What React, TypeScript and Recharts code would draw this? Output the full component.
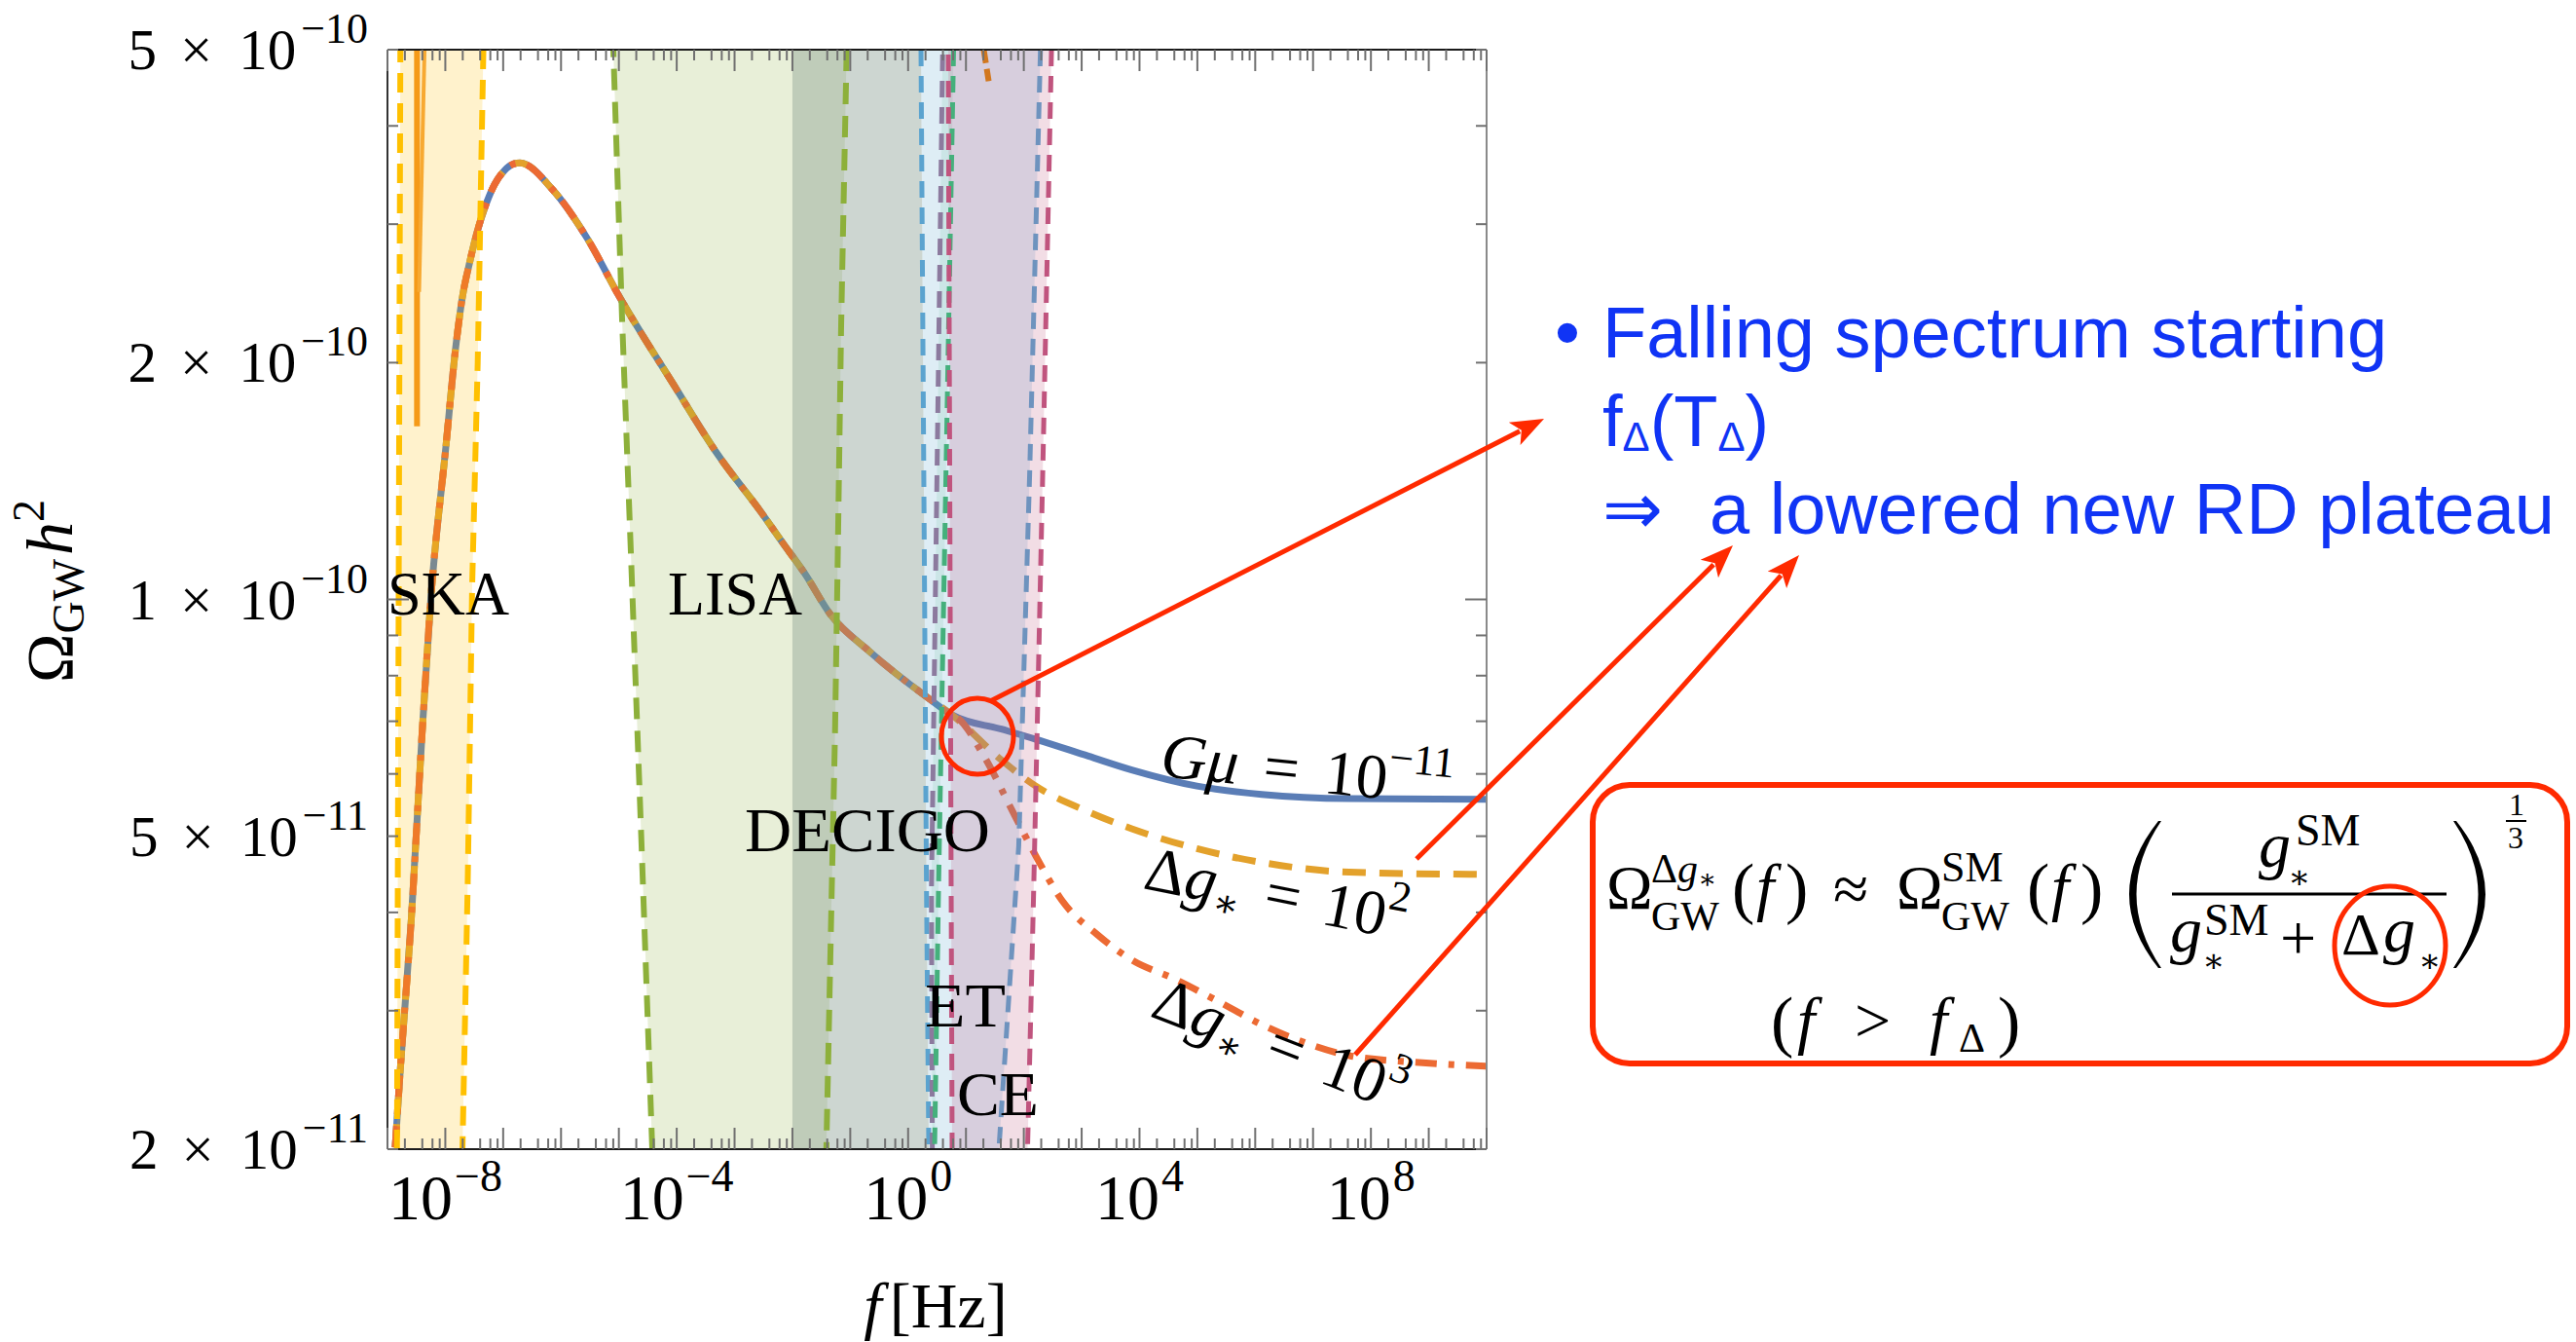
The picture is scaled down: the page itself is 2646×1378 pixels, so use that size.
import React from "react";
import { ComposedChart, Line, Area, XAxis, YAxis } from "recharts";

const W = 2646;
const H = 1378;
const SERIF = "'Liberation Serif', 'DejaVu Serif', serif";
const SANS = "'Liberation Sans', 'DejaVu Sans', Arial, sans-serif";
const RED = "#ff2a00";
const BLUE_TEXT = "#1034f5";

// common part of the spectrum (all three curves coincide here), f in Hz
const sharedFreq = [
  1.36e-9, 1.67e-9, 2.58e-9, 3.97e-9, 5.61e-9, 1.02e-8, 1.51e-8, 1.95e-8, 2.69e-8,
  3.49e-8, 4.82e-8, 7.1e-8, 1.05e-7, 1.54e-7, 1.95e-7, 7.13e-7, 2.82e-6, 1.04e-5,
  9.04e-5, 5.07e-4, 2.9e-3, 6.81e-3, 1.62e-2, 4.54e-2, 0.214, 2.03, 5.77,
];
const sharedOmega = [
  2.01e-11, 2.53e-11, 3.92e-11, 6.76e-11, 1.0e-10, 1.56e-10, 2.09e-10, 2.41e-10, 2.7e-10,
  2.92e-10, 3.15e-10, 3.37e-10, 3.51e-10, 3.58e-10, 3.59e-10, 3.32e-10, 2.88e-10, 2.42e-10,
  1.87e-10, 1.53e-10, 1.29e-10, 1.18e-10, 1.08e-10, 9.57e-11, 8.59e-11, 7.53e-11, 7.13e-11,
];

// Gmu = 1e-11, standard model plateau
const gmuFreq = [41.0, 161, 1.31e3, 7.35e3, 9.84e4, 1.3e6, 4.24e7, 1e10];
const gmuOmega = [6.84e-11, 6.64e-11, 6.32e-11, 6.07e-11, 5.79e-11, 5.65e-11, 5.58e-11, 5.57e-11];

// delta g* = 1e2
const dg2Freq = [41.0, 161, 1.31e3, 7.35e3, 9.84e4, 1.3e6, 4.24e7, 1e10];
const dg2Omega = [6.25e-11, 5.79e-11, 5.37e-11, 5.11e-11, 4.82e-11, 4.63e-11, 4.5e-11, 4.47e-11];

// delta g* = 1e3
const dg3Freq = [7.28, 20.5, 68.9, 161, 459, 1.85e3, 7.35e3, 4.12e4, 2.36e5, 1.3e6, 7.41e6, 4.24e7, 5.62e8, 1e10];
const dg3Omega = [
  7.06e-11, 6.32e-11, 5.32e-11, 4.72e-11, 4.14e-11, 3.75e-11, 3.48e-11, 3.29e-11,
  3.08e-11, 2.88e-11, 2.73e-11, 2.63e-11, 2.58e-11, 2.55e-11,
];

// detector regions: left edges run bottom -> top, right edges top -> bottom
const skaLeftF = [1.46e-9, 1.67e-9];
const skaLeftO = [2e-11, 5e-10];
const skaRightF = [4.55e-8, 4.24e-8, 3.63e-8, 2.91e-8, 2.44e-8, 1.98e-8];
const skaRightO = [5e-10, 3.77e-10, 2.0e-10, 1.04e-10, 4.37e-11, 2e-11];

const lisaLeftF = [3.78e-5, 2.47e-5, 1.61e-5, 1.14e-5, 8.02e-6];
const lisaLeftO = [2e-11, 4.86e-11, 1.15e-10, 2.26e-10, 5e-10];
const lisaRightF = [8.67e-2, 6.95e-2, 5.96e-2, 5.45e-2, 3.86e-2];
const lisaRightO = [5e-10, 2.22e-10, 1.03e-10, 6.76e-11, 2e-11];

const decigoLeftF = [1e-2, 1e-2];
const decigoLeftO = [2e-11, 5e-10];
const decigoRightF = [1.67, 2.08, 2.28];
const decigoRightO = [5e-10, 4.26e-11, 2e-11];

const etLeftF = [2.28, 2.08, 1.67];
const etLeftO = [2e-11, 4.26e-11, 5e-10];
const etRightF = [194, 126, 81.7, 37.1];
const etRightO = [5e-10, 1.44e-10, 4.86e-11, 2e-11];

const ligoLeftF = [2.62, 2.53, 3.96];
const ligoLeftO = [2e-11, 4.26e-11, 5e-10];
const ligoRightF = [6.11, 3.35, 2.87];
const ligoRightO = [5e-10, 4.26e-11, 2e-11];

const ceLeftF = [5.77, 5.55, 4.94];
const ceLeftO = [2e-11, 4.26e-11, 5e-10];
const ceRightF = [301, 212, 148, 116];
const ceRightO = [5e-10, 1.44e-10, 4.26e-11, 2e-11];

// PTA signal spikes inside the SKA window
const ptaAF = [3.24e-9, 3.24e-9];
const ptaAO = [5e-10, 1.66e-10];
const ptaBF = [4.37e-9, 3.52e-9];
const ptaBO = [5e-10, 2.46e-10];
const topWedgeF = [20.3, 24.7];
const topWedgeO = [5e-10, 4.56e-10];

// axes
const xDecades = Array.from({ length: 20 }, (_, i) => i - 9);
const xTicks = xDecades.flatMap((d) =>
  d === 10 ? [1e10] : [1, 2, 4, 6, 8].map((m) => Number((m * Math.pow(10, d)).toPrecision(3)))
);
const xLabelExp = [-8, -4, 0, 4, 8];
const yTicks = [2e-11, 3e-11, 4e-11, 5e-11, 6e-11, 7e-11, 8e-11, 9e-11, 1e-10, 2e-10, 3e-10, 4e-10, 5e-10];
const yLabelMant = [1, 2, 5];

const pts = (fs: number[], os: number[]) => fs.map((f, i) => ({ f, omega: os[i] }));
const poly = (lf: number[], lo: number[], rf: number[], ro: number[]) => [...pts(lf, lo), ...pts(rf, ro)];

const gmuPts = [...pts(sharedFreq, sharedOmega), ...pts(gmuFreq, gmuOmega)];
const dg2Pts = [...pts(sharedFreq, sharedOmega), ...pts(dg2Freq, dg2Omega)];
const dg3Pts = [...pts(sharedFreq, sharedOmega), ...pts(dg3Freq, dg3Omega)];

const sup = (e: number) => (e < 0 ? "\u2212" + -e : String(e));

const xTick = (side: "bottom" | "top") => (p: any) => {
  const { x, y, payload } = p;
  const v = payload.value;
  const e = Math.round(Math.log10(v));
  const major = Math.abs(v / Math.pow(10, e) - 1) < 1e-6;
  const len = major ? 22 : 11;
  const dir = side === "bottom" ? -1 : 1;
  return (
    <g>
      <line x1={x} x2={x} y1={y} y2={y + dir * len} stroke="#707070" strokeWidth={2} />
      {side === "bottom" && major && xLabelExp.includes(e) && (
        <text x={x} y={y + 72} textAnchor="middle" fontFamily={SERIF} fontSize={66} fill="#000">
          10
          <tspan fontSize={46} dy={-29} dx={2}>
            {sup(e)}
          </tspan>
        </text>
      )}
    </g>
  );
};

const yTick = (side: "left" | "right") => (p: any) => {
  const { x, y, payload } = p;
  const v = payload.value;
  const e = Math.floor(Math.log10(v) + 1e-9);
  const m = Math.round(v / Math.pow(10, e));
  const len = m === 1 ? 22 : 11;
  const dir = side === "left" ? 1 : -1;
  return (
    <g>
      <line x1={x} x2={x + dir * len} y1={y} y2={y} stroke="#707070" strokeWidth={2} />
      {side === "left" && yLabelMant.includes(m) && (
        <text x={x - 20} y={y + 20} textAnchor="end" fontFamily={SERIF} fontSize={59} fill="#000">
          {m}
          <tspan dx={24}>×</tspan>
          <tspan dx={27}>10</tspan>
          <tspan dx={5} dy={-27} fontSize={44}>
            {sup(e)}
          </tspan>
        </text>
      )}
    </g>
  );
};

function Arrow({ x1, y1, x2, y2 }: { x1: number; y1: number; x2: number; y2: number }) {
  const a = Math.atan2(y2 - y1, x2 - x1);
  const L = 34;
  const hw = 13;
  const bx = x2 - L * Math.cos(a);
  const by = y2 - L * Math.sin(a);
  const px = -Math.sin(a) * hw;
  const py = Math.cos(a) * hw;
  return (
    <g>
      <line x1={x1} y1={y1} x2={bx + 6 * Math.cos(a)} y2={by + 6 * Math.sin(a)} stroke={RED} strokeWidth={5} />
      <polygon points={`${x2},${y2} ${bx + px},${by + py} ${bx + 8 * Math.cos(a)},${by + 8 * Math.sin(a)} ${bx - px},${by - py}`} fill={RED} />
    </g>
  );
}

const edge = (data: any[], color: string, key: string, dash = "17 10", width = 5) => (
  <Line
    key={key}
    data={data}
    dataKey="omega"
    type="linear"
    stroke={color}
    strokeWidth={width}
    strokeDasharray={dash}
    dot={false}
    activeDot={false}
    isAnimationActive={false}
  />
);

const band = (data: any[], color: string, opacity: number, key: string) => (
  <Area
    key={key}
    data={data}
    dataKey="omega"
    type="linear"
    stroke="none"
    fill={color}
    fillOpacity={opacity}
    dot={false}
    activeDot={false}
    isAnimationActive={false}
    zIndex={100}
  />
);

function Overlay() {
  const it = { fontStyle: "italic" as const };
  return (
    <svg width={W} height={H} style={{ position: "absolute", left: 0, top: 0, pointerEvents: "none" }}>
      {/* detector names */}
      <g fontFamily={SERIF} fontSize={63} fill="#000">
        <text x={398} y={631} textLength={125} lengthAdjust="spacingAndGlyphs">SKA</text>
        <text x={686} y={631} textLength={138} lengthAdjust="spacingAndGlyphs">LISA</text>
        <text x={765} y={874} textLength={252} lengthAdjust="spacingAndGlyphs">DECIGO</text>
        <text x={950} y={1054} textLength={83} lengthAdjust="spacingAndGlyphs">ET</text>
        <text x={983} y={1145} textLength={84} lengthAdjust="spacingAndGlyphs">CE</text>
      </g>

      {/* curve labels */}
      <g fontFamily={SERIF} fontSize={65} fill="#000">
        <text x={1191} y={797} transform="rotate(5.8 1191 797)">
          <tspan {...it}>Gμ</tspan>
          <tspan dx={26}>=</tspan>
          <tspan dx={26}>10</tspan>
          <tspan fontSize={44} dy={-29}>
            −11
          </tspan>
        </text>
        <text x={1173} y={912} transform="rotate(11.3 1173 912)">
          Δ<tspan {...it}>g</tspan>
          <tspan fontSize={40} dy={12}>
            ∗
          </tspan>
          <tspan dy={-12} dx={24}>
            =
          </tspan>
          <tspan dx={24}>10</tspan>
          <tspan fontSize={44} dy={-29}>
            2
          </tspan>
        </text>
        <text x={1180} y={1043} transform="rotate(21.3 1180 1043)">
          Δ<tspan {...it}>g</tspan>
          <tspan fontSize={40} dy={12}>
            ∗
          </tspan>
          <tspan dy={-12} dx={24}>
            =
          </tspan>
          <tspan dx={24}>10</tspan>
          <tspan fontSize={44} dy={-29}>
            3
          </tspan>
        </text>
      </g>

      {/* axis titles */}
      <text transform="translate(74 607) rotate(-90)" textAnchor="middle" fontFamily={SERIF} fontSize={68} fill="#000">
        Ω
        <tspan fontSize={46} dy={12}>
          GW
        </tspan>
        <tspan {...it} dy={-12} dx={4}>
          h
        </tspan>
        <tspan fontSize={46} dy={-29}>
          2
        </tspan>
      </text>
      <text x={961} y={1363} textAnchor="middle" fontFamily={SERIF} fontSize={66} fill="#000">
        <tspan {...it}>f</tspan>
        <tspan dx={8}>[Hz]</tspan>
      </text>

      {/* highlight of the transition */}
      <ellipse cx={1004} cy={756} rx={37} ry={39} fill="none" stroke={RED} strokeWidth={5} />
      <Arrow x1={1017} y1={720} x2={1586} y2={430} />
      <Arrow x1={1455} y1={882} x2={1780} y2={560} />
      <Arrow x1={1392} y1={1083} x2={1848} y2={570} />

      {/* explanation */}
      <g fontFamily={SANS} fontSize={74} fill={BLUE_TEXT}>
        <text x={1597} y={367}>•</text>
        <text x={1646} y={367}>Falling spectrum starting</text>
        <text x={1646} y={458}>
          f
          <tspan fontSize={42} dy={5}>
            Δ
          </tspan>
          <tspan dy={-5}>(T</tspan>
          <tspan fontSize={42} dy={5}>
            Δ
          </tspan>
          <tspan dy={-5}>)</tspan>
        </text>
        <text x={1646} y={548}>
          ⇒<tspan x={1756}>a lowered new RD plateau</tspan>
        </text>
      </g>

      {/* formula box */}
      <rect x={1636} y={806} width={1001} height={286} rx={38} ry={38} fill="none" stroke={RED} strokeWidth={6} />
      <g fontFamily={SERIF} fill="#000">
        <text x={1650} y={933} fontSize={64}>Ω</text>
        <text x={1696} y={906} fontSize={42}>
          Δ<tspan {...it}>g</tspan>
          <tspan fontSize={28} dy={6}>
            ∗
          </tspan>
        </text>
        <text x={1696} y={955} fontSize={42}>GW</text>
        <text x={1779} y={935} fontSize={70}>(</text>
        <text x={1804} y={933} fontSize={66} {...it}>f</text>
        <text x={1834} y={935} fontSize={70}>)</text>
        <text x={1883} y={935} fontSize={66}>≈</text>
        <text x={1948} y={933} fontSize={64}>Ω</text>
        <text x={1994} y={905} fontSize={44}>SM</text>
        <text x={1994} y={955} fontSize={42}>GW</text>
        <text x={2082} y={935} fontSize={70}>(</text>
        <text x={2107} y={933} fontSize={66} {...it}>f</text>
        <text x={2137} y={935} fontSize={70}>)</text>
        <path d="M2217,843 Q2157,918 2217,994 L2220,994 Q2169,918 2220,843 Z" />
        <text x={2320} y={890} fontSize={66} {...it}>g</text>
        <text x={2350} y={912} fontSize={34}>∗</text>
        <text x={2358} y={868} fontSize={46}>SM</text>
        <line x1={2231} x2={2513} y1={918} y2={918} stroke="#000" strokeWidth={3} />
        <text x={2229} y={977} fontSize={66} {...it}>g</text>
        <text x={2262} y={998} fontSize={34}>∗</text>
        <text x={2264} y={960} fontSize={46}>SM</text>
        <text x={2342} y={985} fontSize={66}>+</text>
        <text x={2405} y={980} fontSize={62}>Δ</text>
        <text x={2448} y={977} fontSize={66} {...it}>g</text>
        <text x={2484} y={998} fontSize={34}>∗</text>
        <path d="M2523,843 Q2583,918 2523,994 L2520,994 Q2571,918 2520,843 Z" />
        <text x={2577} y={837} fontSize={32}>1</text>
        <line x1={2574} x2={2595} y1={843} y2={843} stroke="#000" strokeWidth={2} />
        <text x={2576} y={871} fontSize={32}>3</text>
        <text x={1819} y={1072} fontSize={70}>(</text>
        <text x={1846} y={1070} fontSize={66} {...it}>f</text>
        <text x={1905} y={1070} fontSize={66}>&gt;</text>
        <text x={1982} y={1070} fontSize={66} {...it}>f</text>
        <text x={2012} y={1080} fontSize={42}>Δ</text>
        <text x={2052} y={1072} fontSize={70}>)</text>
      </g>
      <ellipse cx={2455} cy={971} rx={57} ry={61} fill="none" stroke={RED} strokeWidth={5} />
    </svg>
  );
}

export default function App() {
  return (
    <div style={{ position: "absolute", left: 0, top: 0, width: W, height: H, background: "#fff" }}>
      <ComposedChart width={W} height={H} margin={{ top: 41, left: 358, right: W - 1527 - 10, bottom: H - 1180 - 30 }}>
        <XAxis
          dataKey="f"
          type="number"
          scale="log"
          domain={[1e-9, 1e10]}
          allowDataOverflow
          ticks={xTicks}
          interval={0}
          tickSize={0}
          tickMargin={0}
          height={30}
          axisLine={{ stroke: "#1a1a1a", strokeWidth: 2 }}
          tickLine={false}
          tick={xTick("bottom")}
        />
        <XAxis
          xAxisId="top"
          orientation="top"
          dataKey="f"
          type="number"
          scale="log"
          domain={[1e-9, 1e10]}
          allowDataOverflow
          ticks={xTicks}
          interval={0}
          tickSize={0}
          tickMargin={0}
          height={10}
          axisLine={{ stroke: "#1a1a1a", strokeWidth: 2 }}
          tickLine={false}
          tick={xTick("top")}
        />
        <YAxis
          dataKey="omega"
          type="number"
          scale="log"
          domain={[2e-11, 5e-10]}
          allowDataOverflow
          ticks={yTicks}
          interval={0}
          tickSize={0}
          tickMargin={0}
          width={40}
          axisLine={{ stroke: "#333", strokeWidth: 2 }}
          tickLine={false}
          tick={yTick("left")}
        />
        <YAxis
          yAxisId="right"
          orientation="right"
          dataKey="omega"
          type="number"
          scale="log"
          domain={[2e-11, 5e-10]}
          allowDataOverflow
          ticks={yTicks}
          interval={0}
          tickSize={0}
          tickMargin={0}
          width={10}
          axisLine={{ stroke: "#8a8a8a", strokeWidth: 2 }}
          tickLine={false}
          tick={yTick("right")}
        />

        {/* spectra */}
        <Line data={gmuPts} dataKey="omega" type="monotone" stroke="#5a7db6" strokeWidth={7} dot={false} activeDot={false} isAnimationActive={false} zIndex={50} />
        <Line data={dg2Pts} dataKey="omega" type="monotone" stroke="#e3a12b" strokeWidth={7} strokeDasharray="24 14" dot={false} activeDot={false} isAnimationActive={false} zIndex={51} />
        <Line data={dg3Pts} dataKey="omega" type="monotone" stroke="#ec6a33" strokeWidth={7} strokeDasharray="22 12 6 12" dot={false} activeDot={false} isAnimationActive={false} zIndex={52} />

        {/* sensitivity regions */}
        {band(poly(skaLeftF, skaLeftO, skaRightF, skaRightO), "#ffc000", 0.2, "ska")}
        {band(poly(lisaLeftF, lisaLeftO, lisaRightF, lisaRightO), "#8db03a", 0.2, "lisa")}
        {band(poly(decigoLeftF, decigoLeftO, decigoRightF, decigoRightO), "#82988c", 0.4, "decigo")}
        {band(poly(etLeftF, etLeftO, etRightF, etRightO), "#5ba3cf", 0.2, "et")}
        {band(poly(ligoLeftF, ligoLeftO, ligoRightF, ligoRightO), "#45b07c", 0.12, "ligo")}
        {band(poly(ceLeftF, ceLeftO, ceRightF, ceRightO), "#c0547e", 0.2, "ce")}

        {edge(pts(skaLeftF, skaLeftO), "#ffc000", "skaL", "20 11", 6)}
        {edge(pts(skaRightF, skaRightO), "#ffc000", "skaR", "20 11", 6)}
        {edge(pts(lisaLeftF, lisaLeftO), "#8db03a", "lisaL", "22 12", 6)}
        {edge(pts(lisaRightF, lisaRightO), "#8db03a", "lisaR", "22 12", 6)}
        {edge(pts(decigoRightF, decigoRightO), "#5ba3cf", "decR")}
        {edge(pts(ligoLeftF, ligoLeftO), "#8c7a9e", "ligoL")}
        {edge(pts(ligoRightF, ligoRightO), "#45b07c", "ligoR")}
        {edge(pts(ceLeftF, ceLeftO), "#c0547e", "ceL")}
        {edge(pts(etRightF, etRightO), "#6e93be", "etR")}
        {edge(pts(ceRightF, ceRightO), "#c0547e", "ceR")}

        <Line data={pts(ptaAF, ptaAO)} dataKey="omega" type="linear" stroke="#f59a18" strokeWidth={6} dot={false} activeDot={false} isAnimationActive={false} />
        <Line data={pts(ptaBF, ptaBO)} dataKey="omega" type="linear" stroke="#f7a932" strokeWidth={4} dot={false} activeDot={false} isAnimationActive={false} />
        <Line data={pts(topWedgeF, topWedgeO)} dataKey="omega" type="linear" stroke="#d2771d" strokeWidth={6} strokeDasharray="14 6" dot={false} activeDot={false} isAnimationActive={false} />
      </ComposedChart>
      <Overlay />
    </div>
  );
}
